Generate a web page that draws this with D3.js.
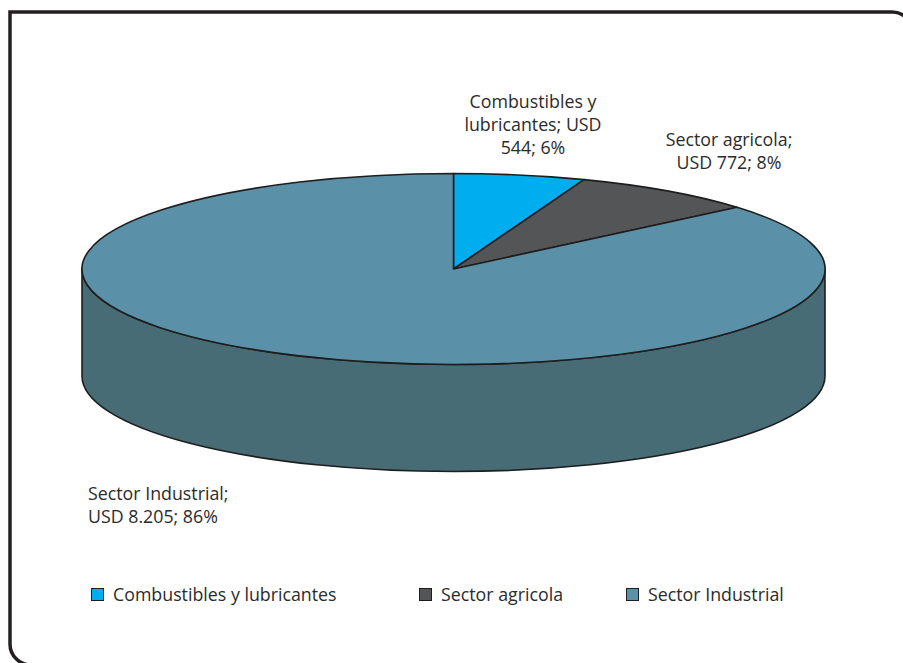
<!DOCTYPE html>
<html>
<head>
<meta charset="utf-8">
<script src="https://cdn.jsdelivr.net/npm/d3@7"></script>
<style>
  html, body { margin: 0; padding: 0; background: #fff; }
  svg { display: block; }
  text { font-family: "Open Sans", "Noto Sans", sans-serif; fill: #2b2b2b; }
</style>
</head>
<body>
<svg id="chart" width="903" height="663"></svg>
<script>
// Export composition (USD, millions)
const categories = ["Combustibles y lubricantes", "Sector agricola", "Sector Industrial"];
const values = [544, 772, 8205];
const valueLabels = ["544", "772", "8.205"];
const percentLabels = ["6%", "8%", "86%"];
const topColors = ["#00adef", "#545556", "#5b91a8"];
const sideColors = ["#0087bb", "#3d3e3f", "#476c76"];

const svg = d3.select("#chart");

// Frame: square top-left corner, rounded top-right and bottom-left
const fx0 = 10, fy0 = 12, fx1 = 913, fy1 = 665, fr = 21;
const fp = d3.path();
fp.moveTo(fx0, fy0);
fp.lineTo(fx1 - fr, fy0);
fp.arcTo(fx1, fy0, fx1, fy0 + fr, fr);
fp.lineTo(fx1, fy1);
fp.lineTo(fx0 + fr, fy1);
fp.arcTo(fx0, fy1, fx0, fy1 - fr, fr);
fp.closePath();
svg.append("path").attr("d", fp.toString())
  .attr("fill", "none").attr("stroke", "#231f20").attr("stroke-width", 3.5);

// 3D pie geometry
const cx = 453.5, cy = 269, rx = 371.5, ry = 95.5, depth = 107;

const pie = d3.pie().sort(null).value(d => d).startAngle(0).endAngle(2 * Math.PI);
const arcs = pie(values);

// Projected ellipse position for angle a (0 = top, clockwise)
const px = a => cx + rx * Math.sin(a);
const py = a => cy - ry * Math.cos(a);

// Side wall (front half, from right edge around the bottom to the left edge)
function sidePath(a0, a1) {
  const s = Math.max(a0, Math.PI / 2), e = Math.min(a1, 3 * Math.PI / 2);
  if (e <= s) return null;
  const large = (e - s) > Math.PI ? 1 : 0;
  return `M${px(s)},${py(s)}` +
    `L${px(s)},${py(s) + depth}` +
    `A${rx},${ry} 0 ${large} 1 ${px(e)},${py(e) + depth}` +
    `L${px(e)},${py(e)}` +
    `A${rx},${ry} 0 ${large} 0 ${px(s)},${py(s)}Z`;
}

const sideG = svg.append("g");
arcs.forEach((d, i) => {
  const p = sidePath(d.startAngle, d.endAngle);
  if (p) sideG.append("path").attr("d", p)
    .attr("fill", sideColors[i]).attr("stroke", "#1e1e1e")
    .attr("stroke-width", 1.6).attr("stroke-linejoin", "round");
});

// Top face slices
const topG = svg.append("g");
arcs.forEach((d, i) => {
  const large = (d.endAngle - d.startAngle) > Math.PI ? 1 : 0;
  const p = `M${cx},${cy}L${px(d.startAngle)},${py(d.startAngle)}` +
    `A${rx},${ry} 0 ${large} 1 ${px(d.endAngle)},${py(d.endAngle)}Z`;
  topG.append("path").attr("d", p)
    .attr("fill", topColors[i]).attr("stroke", "#1e1e1e")
    .attr("stroke-width", 1.6).attr("stroke-linejoin", "round");
});

// Data labels
const fs = 17.8;
function label(lines, x, y, anchor) {
  const t = svg.append("text").attr("x", x).attr("y", y)
    .attr("text-anchor", anchor).style("font-size", fs + "px");
  lines.forEach((s, k) => t.append("tspan").attr("x", x).attr("dy", k === 0 ? 0 : 23).text(s));
}
label(["Combustibles y", "lubricantes; USD", `${valueLabels[0]}; ${percentLabels[0]}`], 533, 108, "middle");
label(["Sector agricola;", `USD ${valueLabels[1]}; ${percentLabels[1]}`], 729, 146, "middle");
label(["Sector Industrial;", `USD ${valueLabels[2]}; ${percentLabels[2]}`], 88, 500, "start");

// Legend
const legendX = [91, 419, 626];
const lg = svg.append("g");
categories.forEach((c, i) => {
  lg.append("rect").attr("x", legendX[i] + 0.5).attr("y", 588.5).attr("width", 12).attr("height", 12)
    .attr("fill", topColors[i]).attr("stroke", "#1e1e1e").attr("stroke-width", 1);
  lg.append("text").attr("x", legendX[i] + 22).attr("y", 601)
    .style("font-size", fs + "px").text(c);
});
</script>
</body>
</html>
